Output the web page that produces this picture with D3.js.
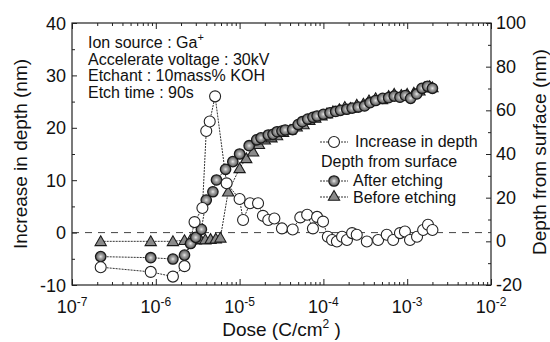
<!DOCTYPE html>
<html>
<head>
<meta charset="utf-8">
<script src="https://cdn.jsdelivr.net/npm/d3@7/dist/d3.min.js"></script>
<style>
  html, body { margin: 0; padding: 0; background: #fff; }
  svg text { font-family: "Liberation Sans", Arial, sans-serif; fill: #111; }
</style>
</head>
<body>
<div id="chart"></div>
<script>
// Increase in depth (left axis, nm)
const incDose = [2.2e-7, 8.7e-7, 1.6e-6, 2.2e-6, 2.9e-6, 3.6e-6, 4.0e-6, 4.4e-6, 5.1e-6, 7.0e-6,
  1.0e-5, 1.1e-5, 1.33e-5, 1.66e-5, 1.9e-5, 2.2e-5, 2.6e-5, 3.2e-5, 4.3e-5, 5.3e-5,
  6.4e-5, 7.5e-5, 8.4e-5, 9.9e-5, 1.13e-4, 1.27e-4, 1.45e-4, 1.67e-4, 1.91e-4, 2.2e-4,
  2.5e-4, 3.3e-4, 4.5e-4, 5.7e-4, 6.8e-4, 8.2e-4, 9.4e-4, 1.08e-3, 1.31e-3, 1.55e-3,
  1.77e-3, 2.0e-3];
const incVal = [-6.6, -7.5, -8.4, -6.4, 2.0, 4.7, 19.4, 21.2, 26.0, 9.4,
  6.4, 2.4, 5.6, 5.6, 3.2, 2.4, 2.7, 0.8, 0.6, 2.9,
  3.4, 0.8, 3.0, 2.1, -0.8, -1.4, -1.7, -0.8, -1.4, -0.1,
  -0.4, -1.7, -1.4, -0.4, -1.4, -0.1, 0.2, -1.4, -0.8, 0.5,
  1.5, 0.5];

// Depth from surface after etching (right axis, nm)
const aftDose = [2.2e-7, 8.7e-7, 1.6e-6, 2.2e-6, 2.6e-6, 3.0e-6, 3.5e-6, 4.0e-6, 4.8e-6, 5.3e-6,
  6.8e-6, 8.3e-6, 1.0e-5, 1.3e-5, 1.6e-5, 1.8e-5, 2.2e-5, 2.5e-5, 2.8e-5, 3.2e-5,
  3.5e-5, 4.3e-5, 5.0e-5, 5.6e-5, 6.5e-5, 7.5e-5, 8.4e-5, 1.0e-4, 1.2e-4, 1.4e-4,
  1.6e-4, 1.9e-4, 2.2e-4, 2.6e-4, 3.1e-4, 3.6e-4, 4.2e-4, 5.1e-4, 6.0e-4, 7.0e-4,
  8.2e-4, 9.5e-4, 1.1e-3, 1.3e-3, 1.5e-3, 1.75e-3, 2.0e-3];
const aftVal = [-7.0, -7.5, -8.1, -6.3, -1.0, 1.8, 5.5, 18.9, 22.7, 28.1,
  33.0, 36.5, 40.0, 43.8, 46.5, 47.4, 48.7, 49.0, 50.2, 50.5,
  51.0, 51.2, 53.5, 54.8, 56.0, 56.8, 57.4, 58.2, 58.9, 59.5,
  60.0, 60.5, 61.0, 61.5, 62.0, 63.5, 64.5, 65.5, 65.8, 66.5,
  66.0, 66.8, 65.5, 67.5, 70.1, 71.0, 70.1];

// Depth from surface before etching (right axis, nm)
const befDose = [2.2e-7, 8.7e-7, 1.6e-6, 2.2e-6, 2.6e-6, 3.0e-6, 3.4e-6, 3.9e-6, 4.5e-6, 5.2e-6,
  5.9e-6, 7.3e-6, 1.0e-5, 1.2e-5, 1.45e-5, 1.7e-5, 2.0e-5, 2.4e-5, 2.8e-5, 3.3e-5,
  4.0e-5, 4.8e-5, 5.8e-5, 6.8e-5, 8.0e-5, 9.5e-5, 1.1e-4, 1.3e-4, 1.55e-4, 1.8e-4,
  2.1e-4, 2.5e-4, 3.0e-4, 3.5e-4, 4.2e-4, 5.0e-4, 6.0e-4, 7.0e-4, 8.5e-4, 1.0e-3,
  1.2e-3, 1.4e-3, 1.6e-3, 1.85e-3, 2.0e-3];
const befVal = [0, 0, 0, 0.5, 0.8, 0.8, 1.0, 0.8, 1.0, 1.2,
  1.6, 22.7, 33.4, 38.0, 41.0, 44.5, 46.5, 47.5, 48.5, 50.0,
  51.0, 52.5, 53.5, 55.5, 56.5, 57.5, 58.5, 59.5, 60.5, 61.5,
  61.0, 62.5, 63.0, 64.5, 65.5, 65.0, 66.5, 67.5, 67.0, 67.5,
  68.0, 69.0, 70.5, 71.0, 70.5];

const xDecades = [1e-7, 1e-6, 1e-5, 1e-4, 1e-3, 1e-2];
const xExponents = ['-7', '-6', '-5', '-4', '-3', '-2'];
const leftTicks = [-10, 0, 10, 20, 30, 40];
const rightTicks = [-20, 0, 20, 40, 60, 80, 100];
const infoLines = ['Ion source : Ga', 'Accelerate voltage : 30kV', 'Etchant : 10mass% KOH', 'Etch time : 90s'];

const width = 550, height = 342;
const plot = { left: 72, right: 491, top: 23, bottom: 285 };

const svg = d3.select('#chart').append('svg')
  .attr('width', width)
  .attr('height', height);

const defs = svg.append('defs');
const grad = defs.append('radialGradient').attr('id', 'grayball');
grad.append('stop').attr('offset', '0%').attr('stop-color', '#e8e8e8');
grad.append('stop').attr('offset', '35%').attr('stop-color', '#a8a8a8');
grad.append('stop').attr('offset', '100%').attr('stop-color', '#555');

const x = d3.scaleLog().domain([1e-7, 1e-2]).range([plot.left, plot.right]);
const yL = d3.scaleLinear().domain([-10, 40]).range([plot.bottom, plot.top]);
const yR = d3.scaleLinear().domain([-20, 100]).range([plot.bottom, plot.top]);

// minor log ticks
const xMinor = [];
for (let e = -7; e < -2; e++) {
  for (let m = 2; m <= 9; m++) xMinor.push(m * Math.pow(10, e));
}

// dashed zero line
svg.append('line')
  .attr('x1', plot.left).attr('x2', plot.right)
  .attr('y1', yL(0)).attr('y2', yL(0))
  .attr('stroke', '#444').attr('stroke-width', 1)
  .attr('stroke-dasharray', '7,6');

// axes
function styleAxis(g) {
  g.select('.domain').remove();
  g.selectAll('line').attr('stroke', '#222').attr('stroke-width', 1);
}

svg.append('g')
  .attr('transform', `translate(0,${plot.bottom})`)
  .call(d3.axisBottom(x).tickValues(xDecades).tickSize(-6).tickFormat(''))
  .call(styleAxis);
svg.append('g')
  .attr('transform', `translate(0,${plot.bottom})`)
  .call(d3.axisBottom(x).tickValues(xMinor).tickSize(-3).tickFormat(''))
  .call(styleAxis);
svg.append('g')
  .attr('transform', `translate(0,${plot.top})`)
  .call(d3.axisTop(x).tickValues(xDecades).tickSize(-6).tickFormat(''))
  .call(styleAxis);
svg.append('g')
  .attr('transform', `translate(0,${plot.top})`)
  .call(d3.axisTop(x).tickValues(xMinor).tickSize(-3).tickFormat(''))
  .call(styleAxis);

svg.append('g')
  .attr('transform', `translate(${plot.left},0)`)
  .call(d3.axisLeft(yL).tickValues(leftTicks).tickSize(-5).tickFormat(''))
  .call(styleAxis);
svg.append('g')
  .attr('transform', `translate(${plot.left},0)`)
  .call(d3.axisLeft(yL).tickValues([-5, 5, 15, 25, 35]).tickSize(-3).tickFormat(''))
  .call(styleAxis);
svg.append('g')
  .attr('transform', `translate(${plot.right},0)`)
  .call(d3.axisRight(yR).tickValues(rightTicks).tickSize(-5).tickFormat(''))
  .call(styleAxis);
svg.append('g')
  .attr('transform', `translate(${plot.right},0)`)
  .call(d3.axisRight(yR).tickValues([-10, 10, 30, 50, 70, 90]).tickSize(-3).tickFormat(''))
  .call(styleAxis);

// frame
svg.append('rect')
  .attr('x', plot.left).attr('y', plot.top)
  .attr('width', plot.right - plot.left).attr('height', plot.bottom - plot.top)
  .attr('fill', 'none').attr('stroke', '#222').attr('stroke-width', 1.2);

// tick labels
svg.selectAll('.ltick').data(leftTicks).enter().append('text')
  .attr('x', plot.left - 6).attr('y', d => yL(d) + 6.5)
  .attr('text-anchor', 'end').attr('font-size', 18)
  .text(d => d);

svg.selectAll('.rtick').data(rightTicks).enter().append('text')
  .attr('x', plot.right + 5).attr('y', d => yR(d) + 6)
  .attr('font-size', 18)
  .text(d => d);

const xLab = svg.selectAll('.xtick').data(xDecades).enter().append('text')
  .attr('x', d => x(d)).attr('y', plot.bottom + 28)
  .attr('text-anchor', 'middle').attr('font-size', 18);
xLab.append('tspan').text('10');
xLab.append('tspan').attr('font-size', 12).attr('dy', -7).text((d, i) => xExponents[i]);

// axis titles
const xTitle = svg.append('text')
  .attr('x', (plot.left + plot.right) / 2).attr('y', 336)
  .attr('text-anchor', 'middle').attr('font-size', 19);
xTitle.append('tspan').text('Dose (C/cm');
xTitle.append('tspan').attr('font-size', 12).attr('dy', -8).text('2');
xTitle.append('tspan').attr('dy', 8).text(' )');

svg.append('text')
  .attr('transform', `translate(27,${(plot.top + plot.bottom) / 2}) rotate(-90)`)
  .attr('text-anchor', 'middle').attr('font-size', 19)
  .text('Increase in depth (nm)');

svg.append('text')
  .attr('transform', `translate(546,${(plot.top + plot.bottom) / 2 - 2}) rotate(-90)`)
  .attr('text-anchor', 'middle').attr('font-size', 19)
  .text('Depth from surface (nm)');

// series
const lineL = d3.line().x(d => x(d[0])).y(d => yL(d[1]));
const lineR = d3.line().x(d => x(d[0])).y(d => yR(d[1]));

const incData = incDose.map((d, i) => [d, incVal[i]]);
const aftData = aftDose.map((d, i) => [d, aftVal[i]]);
const befData = befDose.map((d, i) => [d, befVal[i]]);

const tri = d3.symbol(d3.symbolTriangle, 55);

function drawLine(data, gen) {
  svg.append('path')
    .datum(data)
    .attr('d', gen)
    .attr('fill', 'none')
    .attr('stroke', '#333')
    .attr('stroke-width', 1)
    .attr('stroke-dasharray', '2,1');
}

drawLine(befData, lineR);
drawLine(aftData, lineR);
drawLine(incData, lineL);

svg.selectAll('.bef').data(befData).enter().append('path')
  .attr('d', tri)
  .attr('transform', d => `translate(${x(d[0])},${yR(d[1]) + 1})`)
  .attr('fill', '#8a8a8a').attr('stroke', '#1a1a1a').attr('stroke-width', 1.1);

svg.selectAll('.aft').data(aftData).enter().append('circle')
  .attr('cx', d => x(d[0])).attr('cy', d => yR(d[1]))
  .attr('r', 5.2)
  .attr('fill', 'url(#grayball)').attr('stroke', '#1a1a1a').attr('stroke-width', 1.3);

svg.selectAll('.inc').data(incData).enter().append('circle')
  .attr('cx', d => x(d[0])).attr('cy', d => yL(d[1]))
  .attr('r', 5.5)
  .attr('fill', '#fff').attr('stroke', '#222').attr('stroke-width', 1.1);

// info text
const info = svg.append('g');
infoLines.forEach((t, i) => {
  const tx = info.append('text')
    .attr('x', 88).attr('y', 48 + i * 16.5)
    .attr('font-size', 16)
    .text(t);
  if (i === 0) tx.append('tspan').attr('font-size', 11).attr('dy', -7).text('+');
});

// legend
const legend = svg.append('g');
function legendLine(y) {
  legend.append('line')
    .attr('x1', 320).attr('x2', 348).attr('y1', y).attr('y2', y)
    .attr('stroke', '#333').attr('stroke-width', 1).attr('stroke-dasharray', '2,1');
}
legendLine(142);
legend.append('circle').attr('cx', 334).attr('cy', 142).attr('r', 5.5)
  .attr('fill', '#fff').attr('stroke', '#222').attr('stroke-width', 1.1);
legend.append('text').attr('x', 355).attr('y', 147).attr('font-size', 16).text('Increase in depth');

legend.append('text').attr('x', 321).attr('y', 167).attr('font-size', 16).text('Depth from surface');

legendLine(181);
legend.append('circle').attr('cx', 334).attr('cy', 181).attr('r', 5.2)
  .attr('fill', 'url(#grayball)').attr('stroke', '#1a1a1a').attr('stroke-width', 1.3);
legend.append('text').attr('x', 353).attr('y', 185.5).attr('font-size', 16).text('After etching');

legendLine(197);
legend.append('path').attr('d', tri)
  .attr('transform', 'translate(334,197)')
  .attr('fill', '#8a8a8a').attr('stroke', '#1a1a1a').attr('stroke-width', 1.1);
legend.append('text').attr('x', 353).attr('y', 202.5).attr('font-size', 16).text('Before etching');
</script>
</body>
</html>
